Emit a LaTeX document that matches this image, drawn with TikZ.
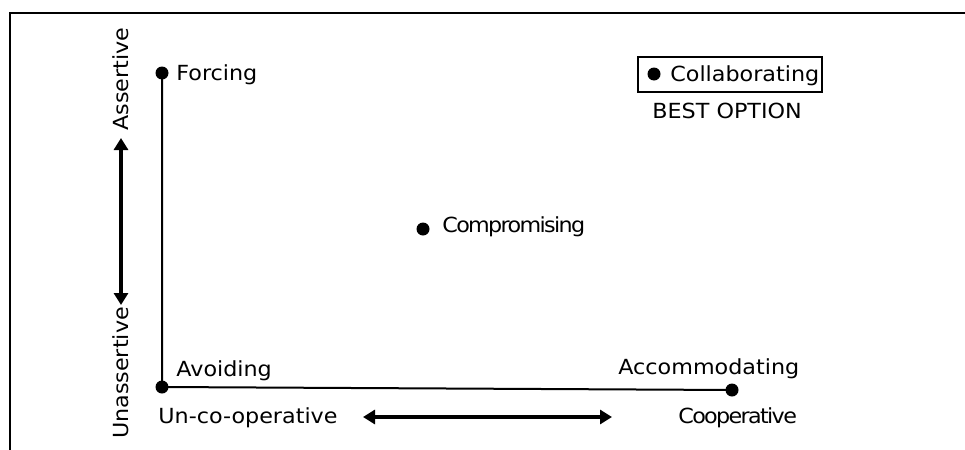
\documentclass[tikz,border=0pt]{standalone}
\usepackage{fontspec}
\setmainfont{DejaVu Sans}[FakeStretch=1.07]
\usetikzlibrary{arrows.meta}
\begin{document}
\begin{tikzpicture}[x=0.5pt,y=-0.5pt,
  dot/.style={circle,fill=black,inner sep=0pt,minimum size=6.5pt},
  lbl/.style={inner sep=0pt,font=\fontsize{10.4}{12}\selectfont},
  tight/.style={lbl,font=\fontsize{10.4}{12}\selectfont\addfontfeatures{LetterSpace=-8}},
  axis/.style={line width=1pt},
  frameline/.style={line width=1pt},
  span/.style={line width=1.6pt,{Triangle[length=6pt,width=7pt]}-{Triangle[length=6pt,width=7pt]}}]
\useasboundingbox (0,0) rectangle (965,450);
% open frame: top and left edges only
\draw[frameline] (10,450) -- (10,13) -- (965,13);

% strategy points
\node[dot] (forcing) at (162,73) {};
\node[dot] (avoiding) at (162,387) {};
\node[dot] (accom) at (732,390) {};
\node[dot] (comp) at (423,229) {};
\draw[axis] (forcing.center) -- (avoiding.center) -- (accom.center);

% strategy labels
\node[lbl,anchor=base west] (forcingtxt) at (176,80) {Forcing};
\node[lbl,anchor=base west] (avoidingtxt) at (176,376) {Avoiding};
\node[lbl,anchor=base west] (accomtxt) at (618,374) {Accommodating};
\node[tight,anchor=base west] (comptxt) at (442,232) {Compromising};

% highlighted best option
\node[draw,line width=1pt,minimum width=92pt,minimum height=17.5pt,inner sep=0pt] (collabbox) at (730,74.5) {};
\node[dot] (collab) at (654,74) {};
\node[lbl,anchor=base west] (collabtxt) at (670,81) {Collaborating};
\node[lbl,anchor=base west] (best) at (652,118) {BEST OPTION};

% vertical dimension
\node[lbl,rotate=90,anchor=base] (assertive) at (128,79) {Assertive};
\node[lbl,rotate=90,anchor=base] (unassertive) at (128,373) {Unassertive};
\coordinate (vtop) at (121,138);
\coordinate (vbot) at (121,305);
\draw[span] (vtop) -- (vbot);

% horizontal dimension
\node[lbl,anchor=base west] (uncoop) at (158,423) {Un-co-operative};
\node[tight,anchor=base west] (coop) at (678,423) {Cooperative};
\coordinate (hleft) at (363,417);
\coordinate (hright) at (612,417);
\draw[span] (hleft) -- (hright);
\end{tikzpicture}
\end{document}
